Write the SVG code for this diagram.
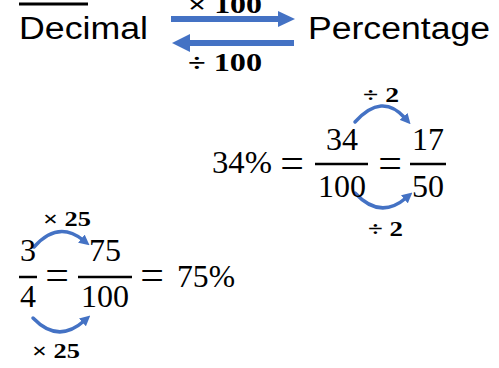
<svg xmlns="http://www.w3.org/2000/svg" width="499" height="368" viewBox="0 0 499 368">
<style>
.word{font-family:"Liberation Sans",Arial,sans-serif;font-size:31px;fill:#000}
.m{font-family:"Liberation Serif","Times New Roman",serif;font-size:32px;fill:#000}
.eq{font-family:"Liberation Serif","Times New Roman",serif;font-size:42px;fill:#000}
.lb{font-family:"Liberation Serif","Times New Roman",serif;font-weight:bold;fill:#000}
.bar{stroke:#000;stroke-width:2.5}
.arc{fill:none;stroke:#4472C4;stroke-width:3.5;stroke-linecap:round}
.blue{fill:#4472C4}
</style>
<defs>
<marker id="ah" viewBox="0 0 10 10" refX="2" refY="5" markerWidth="3" markerHeight="3" orient="auto" markerUnits="strokeWidth">
<path d="M0,0 L10,5 L0,10 z" fill="#4472C4"/>
</marker>
</defs>
<rect width="499" height="368" fill="#fff"/>
<g id="header">
<line x1="19" y1="4" x2="88" y2="4" stroke="#000" stroke-width="3"/>
<text class="word" x="19" y="39" textLength="129" lengthAdjust="spacingAndGlyphs">Decimal</text>
<text class="word" x="308" y="39" textLength="182" lengthAdjust="spacingAndGlyphs">Percentage</text>
</g>
<g id="connectors">
<g id="arrow-right">
<rect class="blue" x="171" y="16" width="108" height="6"/>
<polygon class="blue" points="278,11 295,19 278,27"/>
</g>
<g id="arrow-left">
<rect class="blue" x="188" y="40" width="106" height="6"/>
<polygon class="blue" points="190,34 172,43 190,52"/>
</g>
<path class="arc" d="M355,122 Q382,92 405,118" marker-end="url(#ah)"/>
<path class="arc" d="M355,193 Q380,220 406,198" marker-end="url(#ah)"/>
<path class="arc" d="M34,247 Q58,220 83,240" marker-end="url(#ah)"/>
<path class="arc" d="M33,318 Q58,344 84,321" marker-end="url(#ah)"/>
</g>
<g id="labels">
<text class="lb" x="188" y="13" font-size="26" textLength="74" lengthAdjust="spacingAndGlyphs">× 100</text>
<text class="lb" x="188" y="71" font-size="26" textLength="74" lengthAdjust="spacingAndGlyphs">÷ 100</text>
<text class="lb" x="363" y="102" font-size="21" textLength="36" lengthAdjust="spacingAndGlyphs">÷ 2</text>
<text class="lb" x="368" y="236" font-size="21" textLength="35" lengthAdjust="spacingAndGlyphs">÷ 2</text>
<text class="lb" x="43" y="226" font-size="20" textLength="48" lengthAdjust="spacingAndGlyphs">× 25</text>
<text class="lb" x="32" y="358" font-size="20" textLength="48" lengthAdjust="spacingAndGlyphs">× 25</text>
</g>
<g id="eq-percent">
<text class="m" x="212" y="173" textLength="60" lengthAdjust="spacingAndGlyphs">34%</text>
<text class="eq" x="292" y="177" text-anchor="middle">=</text>
<text class="m" x="342" y="150" text-anchor="middle">34</text>
<line class="bar" x1="315" y1="164" x2="368" y2="164"/>
<text class="m" x="342" y="197" text-anchor="middle">100</text>
<text class="eq" x="390" y="177" text-anchor="middle">=</text>
<text class="m" x="428" y="150" text-anchor="middle">17</text>
<line class="bar" x1="410" y1="164" x2="446" y2="164"/>
<text class="m" x="428" y="197" text-anchor="middle">50</text>
</g>
<g id="eq-fraction">
<text class="m" x="28" y="261" text-anchor="middle">3</text>
<line class="bar" x1="19" y1="277" x2="37" y2="277"/>
<text class="m" x="28" y="307" text-anchor="middle">4</text>
<text class="eq" x="57" y="289" text-anchor="middle">=</text>
<text class="m" x="105" y="261" text-anchor="middle">75</text>
<line class="bar" x1="78" y1="277" x2="132" y2="277"/>
<text class="m" x="105" y="307" text-anchor="middle">100</text>
<text class="eq" x="152" y="289" text-anchor="middle">=</text>
<text class="m" x="177" y="287" textLength="58" lengthAdjust="spacingAndGlyphs">75%</text>
</g>
</svg>
